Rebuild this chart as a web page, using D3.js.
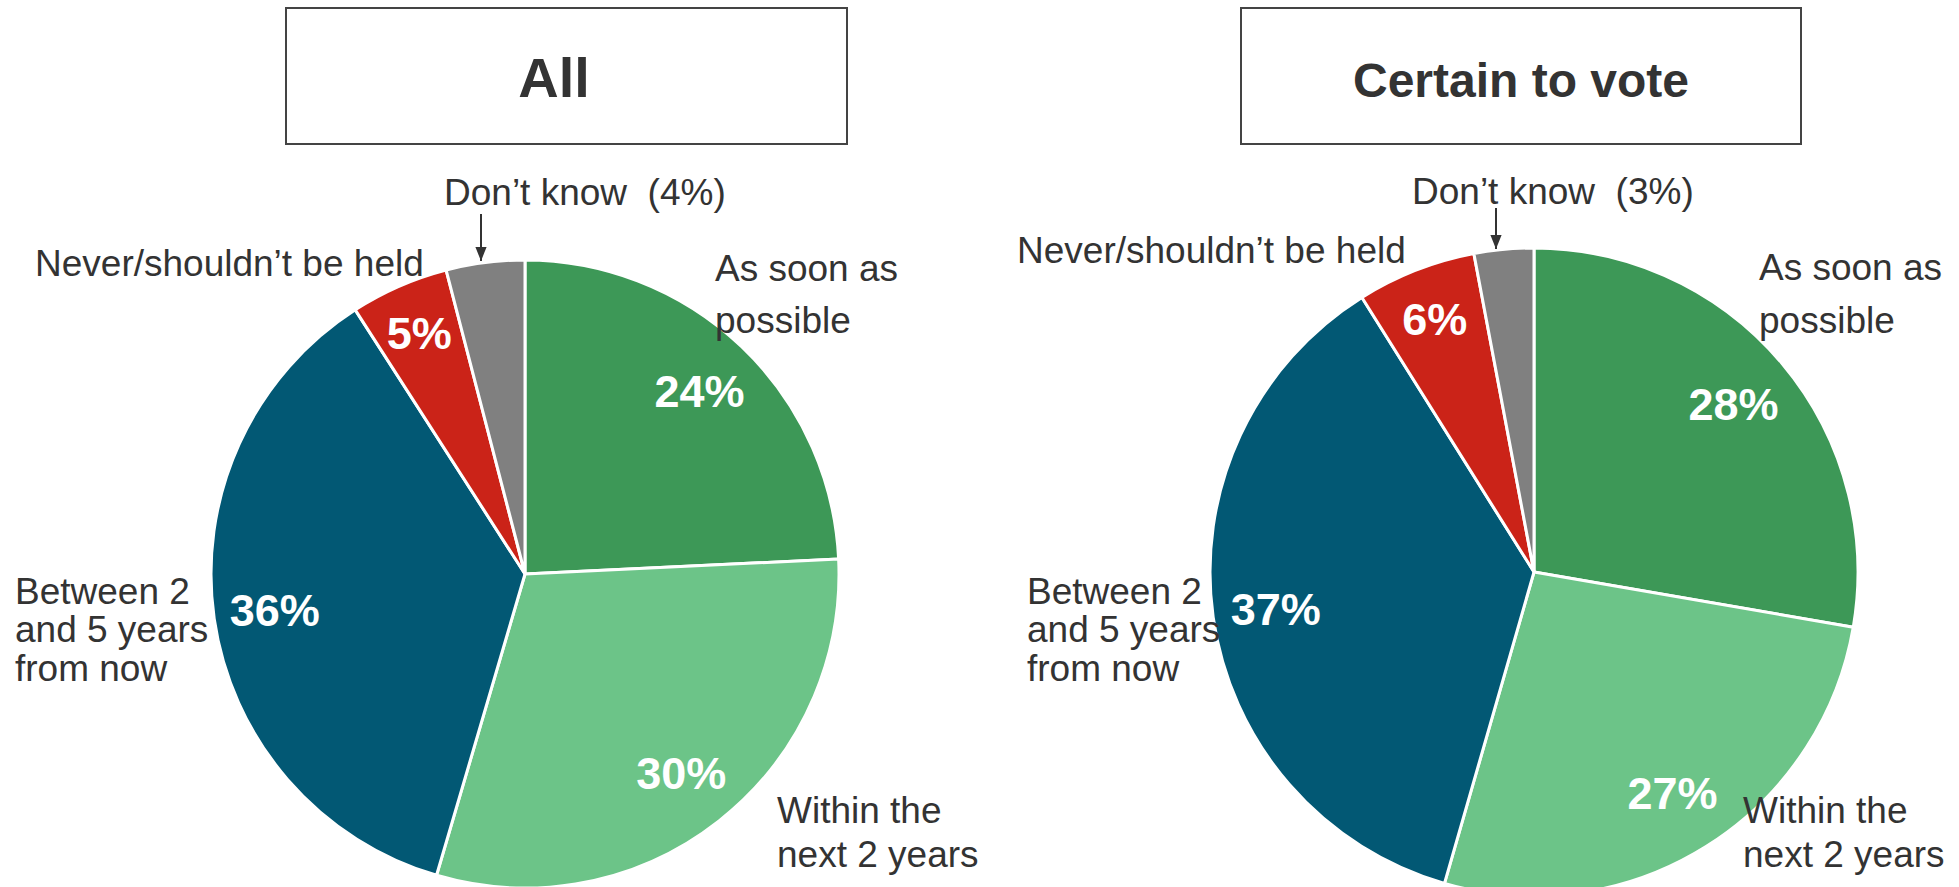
<!DOCTYPE html>
<html><head><meta charset="utf-8">
<script src="https://cdn.jsdelivr.net/npm/d3@7"></script>
<style>html,body{margin:0;padding:0;background:#fff;overflow:hidden} text{white-space:pre}</style>
</head><body><svg id="chart" width="1959" height="887"></svg>
<script>
const categories = ["As soon as possible","Within the next 2 years","Between 2 and 5 years from now","Never/shouldn’t be held","Don’t know"];
const allValues = [24, 30, 36, 5, 4];
const certainValues = [28, 27, 37, 6, 3];
const panelTitles = ["All", "Certain to vote"];
const colors = ["#3D9857", "#6CC488", "#025874", "#CB2318", "#808080"];

const svg = d3.select("#chart");
const FONT = "'Liberation Sans', Arial, Helvetica, sans-serif";
const TXT = "#333333";

svg.append("defs").append("marker")
  .attr("id", "arrow").attr("viewBox", "0 0 10 10")
  .attr("refX", 10).attr("refY", 5)
  .attr("markerWidth", 7).attr("markerHeight", 7)
  .attr("markerUnits", "strokeWidth")
  .attr("orient", "auto")
  .append("path").attr("d", "M0,1 L10,5 L0,9 Z").attr("fill", "#333");

const panels = [
  { values: allValues, title: panelTitles[0], titleSize: 56, titleX: 554, cx: 525, cy: 574, r: 314,
    box: [286, 8, 561, 136],
    labels: [
      { x: 715, ys: [281, 333], lines: ["As soon as", "possible"] },
      { x: 777, ys: [823, 867], lines: ["Within the", "next 2 years"] },
      { x: 15, ys: [604, 642, 681], lines: ["Between 2", "and 5 years", "from now"] },
      { x: 35, ys: [276], lines: ["Never/shouldn’t be held"] },
      { x: 444, ys: [205], lines: [null] }
    ],
    arrow: { x: 481, y1: 214, y2: 261 }
  },
  { values: certainValues, title: panelTitles[1], titleSize: 48, titleX: 1521, cx: 1534, cy: 572, r: 324,
    box: [1241, 8, 560, 136],
    labels: [
      { x: 1759, ys: [280, 333], lines: ["As soon as", "possible"] },
      { x: 1743, ys: [823, 867], lines: ["Within the", "next 2 years"] },
      { x: 1027, ys: [604, 642, 681], lines: ["Between 2", "and 5 years", "from now"] },
      { x: 1017, ys: [263], lines: ["Never/shouldn’t be held"] },
      { x: 1412, ys: [204], lines: [null] }
    ],
    arrow: { x: 1496, y1: 208, y2: 249 }
  }
];

const pie = d3.pie().sort(null).value(d => d.value);

panels.forEach(p => {
  const g = svg.append("g");
  // title box
  g.append("rect").attr("x", p.box[0]).attr("y", p.box[1])
    .attr("width", p.box[2]).attr("height", p.box[3])
    .attr("fill", "#fff").attr("stroke", "#444").attr("stroke-width", 2);
  g.append("text").attr("x", p.titleX).attr("y", 97)
    .attr("text-anchor", "middle").attr("font-family", FONT)
    .attr("font-weight", "bold").attr("font-size", p.titleSize).attr("fill", TXT)
    .text(p.title);

  const data = categories.map((c, i) => ({ cat: c, value: p.values[i], color: colors[i] }));
  const arcs = pie(data);
  const arc = d3.arc().innerRadius(0).outerRadius(p.r);
  const labelR = d => p.r * (d.data.value < 10 ? 0.84 : 0.805);

  const pg = g.append("g").attr("transform", `translate(${p.cx},${p.cy})`);
  pg.selectAll("path").data(arcs).enter().append("path")
    .attr("d", arc).attr("fill", d => d.data.color)
    .attr("stroke", "#fff").attr("stroke-width", 3).attr("stroke-linejoin", "round");

  pg.selectAll("text.pct").data(arcs.filter(d => d.data.cat !== categories[4])).enter()
    .append("text").attr("class", "pct")
    .attr("transform", d => `translate(${d3.arc().innerRadius(labelR(d)).outerRadius(labelR(d)).centroid(d)})`)
    .attr("text-anchor", "middle").attr("dy", "0.36em")
    .attr("font-family", FONT).attr("font-weight", "bold").attr("font-size", 45)
    .attr("fill", "#fff")
    .text(d => d.data.value + "%");

  // category labels
  p.labels.forEach((lb, i) => {
    const t = g.append("text").attr("font-family", FONT).attr("font-size", 37).attr("fill", TXT);
    lb.lines.forEach((ln, j) => {
      t.append("tspan").attr("x", lb.x).attr("y", lb.ys[j])
        .text(ln === null ? categories[i] + "  (" + p.values[i] + "%)" : ln);
    });
  });

  // arrow
  g.append("line").attr("x1", p.arrow.x).attr("x2", p.arrow.x)
    .attr("y1", p.arrow.y1).attr("y2", p.arrow.y2)
    .attr("stroke", "#333").attr("stroke-width", 2)
    .attr("marker-end", "url(#arrow)");
});
</script>
</body></html>
